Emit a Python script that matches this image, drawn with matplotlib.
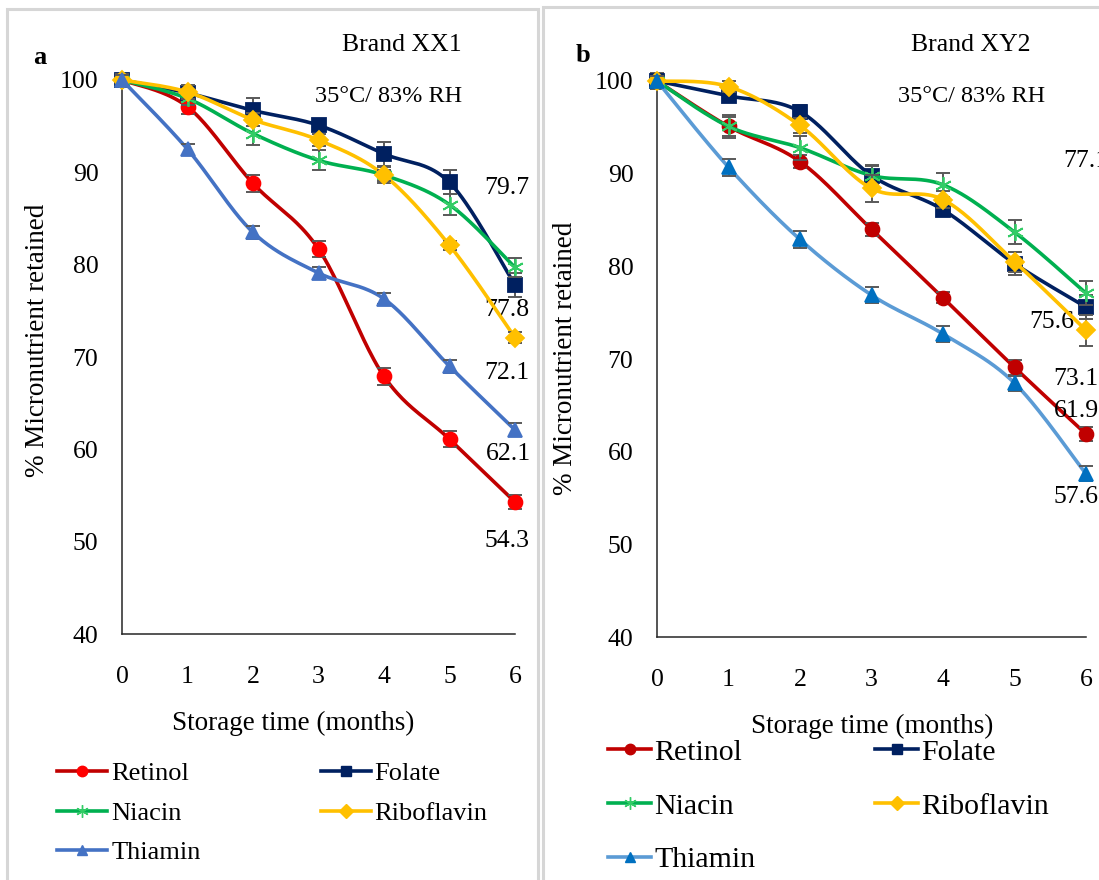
import numpy as np
import matplotlib
matplotlib.use("Agg")
import matplotlib.pyplot as plt
from matplotlib.lines import Line2D
from matplotlib.patches import Rectangle

plt.rcParams['font.family'] = ['Liberation Serif', 'DejaVu Serif']

# ---------------- data ----------------
months = [0, 1, 2, 3, 4, 5, 6]
nutrients = ["Retinol", "Folate", "Niacin", "Riboflavin", "Thiamin"]

a_retinol = [100, 97.1, 88.8, 81.7, 67.9, 61.1, 54.3]
a_folate = [100, 98.6, 96.7, 95.1, 92.0, 88.9, 77.8]
a_niacin = [100, 98.0, 94.2, 91.3, 89.7, 86.5, 79.7]
a_riboflavin = [100, 98.7, 95.7, 93.5, 89.7, 82.1, 72.1]
a_thiamin = [100, 92.5, 83.5, 79.1, 76.3, 69.0, 62.1]

a_retinol_err = [0.5, 0.8, 0.9, 0.9, 0.9, 0.9, 0.8]
a_folate_err = [0.6, 0.8, 1.3, 0.6, 1.3, 1.3, 1.3]
a_niacin_err = [0.6, 0.7, 1.2, 1.1, 0.9, 1.1, 1.0]
a_riboflavin_err = [0.4, 0.8, 0.7, 0.6, 0.6, 0.5, 0.6]
a_thiamin_err = [0.5, 0.6, 0.7, 0.7, 0.6, 0.7, 0.7]

b_retinol = [100, 95.1, 91.3, 84.0, 76.6, 69.1, 61.9]
b_folate = [100, 98.4, 96.7, 89.8, 86.1, 80.3, 75.6]
b_niacin = [100, 95.1, 92.8, 89.8, 88.8, 83.7, 77.1]
b_riboflavin = [100, 99.4, 95.2, 88.4, 87.2, 80.5, 73.1]
b_thiamin = [100, 90.7, 82.9, 76.9, 72.7, 67.4, 57.6]

b_retinol_err = [0.5, 1.0, 0.7, 0.7, 0.6, 0.8, 0.8]
b_folate_err = [0.9, 0.6, 0.7, 1.0, 0.6, 1.2, 1.3]
b_niacin_err = [0.5, 1.2, 1.3, 1.1, 1.3, 1.3, 1.3]
b_riboflavin_err = [0.5, 0.6, 0.8, 1.5, 0.9, 1.1, 1.7]
b_thiamin_err = [0.5, 0.9, 0.9, 0.9, 0.9, 0.8, 0.8]

a_end_labels = ["54.3", "77.8", "79.7", "72.1", "62.1"]
b_end_labels = ["61.9", "75.6", "77.1", "73.1", "57.6"]

x_ticks = [0, 1, 2, 3, 4, 5, 6]
y_ticks = [40, 50, 60, 70, 80, 90, 100]

# ---------------- styles ----------------
W, H = 1099, 880
fig = plt.figure(figsize=(W / 100, H / 100), dpi=100)

def fx(px):
    return px / W

def fy(py):
    return 1 - py / H

star = (6, 2, 0)
style_a = {
    "Retinol": dict(lc="#C00000", mc="#FF0000", m="o", ms=10),
    "Folate": dict(lc="#002060", mc="#002060", m="s", ms=10),
    "Niacin": dict(lc="#00B050", mc="#33CC66", m=star, ms=12),
    "Riboflavin": dict(lc="#FFC000", mc="#FFC000", m="D", ms=9),
    "Thiamin": dict(lc="#4472C4", mc="#4472C4", m="^", ms=10),
}
style_b = {
    "Retinol": dict(lc="#C00000", mc="#C00000", m="o", ms=10),
    "Folate": dict(lc="#002060", mc="#002060", m="s", ms=10),
    "Niacin": dict(lc="#00B050", mc="#33CC66", m=star, ms=12),
    "Riboflavin": dict(lc="#FFC000", mc="#FFC000", m="D", ms=9),
    "Thiamin": dict(lc="#5B9BD5", mc="#0070C0", m="^", ms=10),
}


def smooth(x, y, n=40):
    pts = np.column_stack([np.asarray(x, float), np.asarray(y, float)])
    m = len(pts)
    out = []
    t = np.linspace(0, 1, n)[:, None]
    for i in range(m - 1):
        p0 = pts[max(i - 1, 0)]
        p1 = pts[i]
        p2 = pts[i + 1]
        p3 = pts[min(i + 2, m - 1)]
        c1 = p1 + (p2 - p0) / 6
        c2 = p2 - (p3 - p1) / 6
        seg = ((1 - t) ** 3) * p1 + 3 * ((1 - t) ** 2) * t * c1 + 3 * (1 - t) * t ** 2 * c2 + t ** 3 * p2
        out.append(seg if i == 0 else seg[1:])
    out = np.vstack(out)
    return out[:, 0], out[:, 1]


def draw_panel(ax, series, errs, styles, end_labels, label_offsets):
    for k, name in enumerate(nutrients):
        st = styles[name]
        y = series[k]
        sx, sy = smooth(months, y)
        ax.plot(sx, sy, color=st["lc"], lw=2.6, zorder=3 + k, solid_capstyle="round",
                clip_on=False)
        ax.errorbar(months, y, yerr=errs[k], fmt="none", ecolor="#595959",
                    elinewidth=1.4, capsize=5, capthick=1.4, zorder=3 + k, clip_on=False)
        ax.plot(months, y, linestyle="none", marker=st["m"], markersize=st["ms"],
                markerfacecolor=st["mc"], markeredgecolor=st["mc"],
                markeredgewidth=1.3, zorder=3.5 + k, clip_on=False)
        dx, dy = label_offsets[k]
        ax.annotate(end_labels[k], xy=(months[-1], y[-1]), xytext=(dx, -dy),
                    textcoords="offset pixels", ha="center", va="center",
                    fontsize=18.5, color="#000000", annotation_clip=False)
    ax.set_xlim(0, 6)
    ax.set_ylim(40, 100)
    ax.set_xticks(x_ticks)
    ax.set_yticks(y_ticks)
    ax.tick_params(length=0, labelsize=18.5, colors="#000000")
    ax.tick_params(axis="x", pad=23)
    ax.tick_params(axis="y", pad=17)
    for s in ["top", "right"]:
        ax.spines[s].set_visible(False)
    for s in ["left", "bottom"]:
        ax.spines[s].set_color("#262626")
        ax.spines[s].set_linewidth(1.1)


def legend_handles(styles, order):
    hs = []
    for name in order:
        st = styles[name]
        hs.append(Line2D([0], [0], color=st["lc"], lw=2.6, marker=st["m"],
                         markersize=st["ms"] * 0.75, markerfacecolor=st["mc"],
                         markeredgecolor=st["mc"], markeredgewidth=1.0))
    return hs

# panel borders
fig.patches.append(Rectangle((fx(7), fy(885)), fx(538) - fx(7), fy(9) - fy(885),
                             transform=fig.transFigure, fill=False,
                             edgecolor="#D6D6D6", lw=2.2, zorder=0))
fig.patches.append(Rectangle((fx(543), fy(885)), fx(1110) - fx(543), fy(7) - fy(885),
                             transform=fig.transFigure, fill=False,
                             edgecolor="#D6D6D6", lw=2.2, zorder=0))

# ---------------- panel a ----------------
axa = fig.add_axes([fx(122), fy(634), fx(515) - fx(122), fy(80) - fy(634)])
series_a = [a_retinol, a_folate, a_niacin, a_riboflavin, a_thiamin]
errs_a = [a_retinol_err, a_folate_err, a_niacin_err, a_riboflavin_err, a_thiamin_err]
offs_a = [(-8, 39), (-8, 25), (-8, -79), (-8, 35), (-7, 24)]
draw_panel(axa, series_a, errs_a, style_a, a_end_labels, offs_a)
axa.set_xlabel("Storage time (months)", fontsize=19.5)
axa.set_ylabel("% Micronutrient retained", fontsize=19.5)
axa.yaxis.set_label_coords((50 - 122) / (515 - 122), (634 - 340) / (634 - 80))
axa.xaxis.set_label_coords((293 - 122) / (515 - 122), -(711 - 634) / (634 - 80))

fig.text(fx(402), fy(45), "Brand XX1", fontsize=18.5, ha="center", va="center")
fig.text(fx(389), fy(96), "35°C/ 83% RH", fontsize=17.5, ha="center", va="center")
fig.text(fx(40), fy(57), "a", fontsize=19, fontweight="bold", ha="center", va="center")

order = ["Retinol", "Niacin", "Thiamin", "Folate", "Riboflavin"]
leg_a = fig.legend(legend_handles(style_a, order), order, loc="upper left",
                   bbox_to_anchor=(fx(57), fy(762)), ncol=2, frameon=False,
                   fontsize=19, handlelength=1.9, handletextpad=0.15,
                   labelspacing=0.6, columnspacing=4.55, borderpad=0, borderaxespad=0)

# ---------------- panel b ----------------
axb = fig.add_axes([fx(657), fy(637), fx(1086) - fx(657), fy(81) - fy(637)])
series_b = [b_retinol, b_folate, b_niacin, b_riboflavin, b_thiamin]
errs_b = [b_retinol_err, b_folate_err, b_niacin_err, b_riboflavin_err, b_thiamin_err]
offs_b = [(-10, -23), (-34, 15), (0, -132), (-10, 49), (-10, 23)]
draw_panel(axb, series_b, errs_b, style_b, b_end_labels, offs_b)
axb.set_xlabel("Storage time (months)", fontsize=19.5)
axb.set_ylabel("% Micronutrient retained", fontsize=19.5)
axb.yaxis.set_label_coords((578 - 657) / (1086 - 657), (637 - 358) / (637 - 81))
axb.xaxis.set_label_coords((872 - 657) / (1086 - 657), -(714 - 637) / (637 - 81))

fig.text(fx(971), fy(45), "Brand XY2", fontsize=18.5, ha="center", va="center")
fig.text(fx(972), fy(97), "35°C/ 83% RH", fontsize=17.5, ha="center", va="center")
fig.text(fx(583), fy(55), "b", fontsize=19, fontweight="bold", ha="center", va="center")

leg_b = fig.legend(legend_handles(style_b, order), order, loc="upper left",
                   bbox_to_anchor=(fx(608), fy(739)), ncol=2, frameon=False,
                   fontsize=21.5, handlelength=1.45, handletextpad=0.1,
                   labelspacing=0.9, columnspacing=4.0, borderpad=0, borderaxespad=0)

fig.savefig("out.png", dpi=100)
